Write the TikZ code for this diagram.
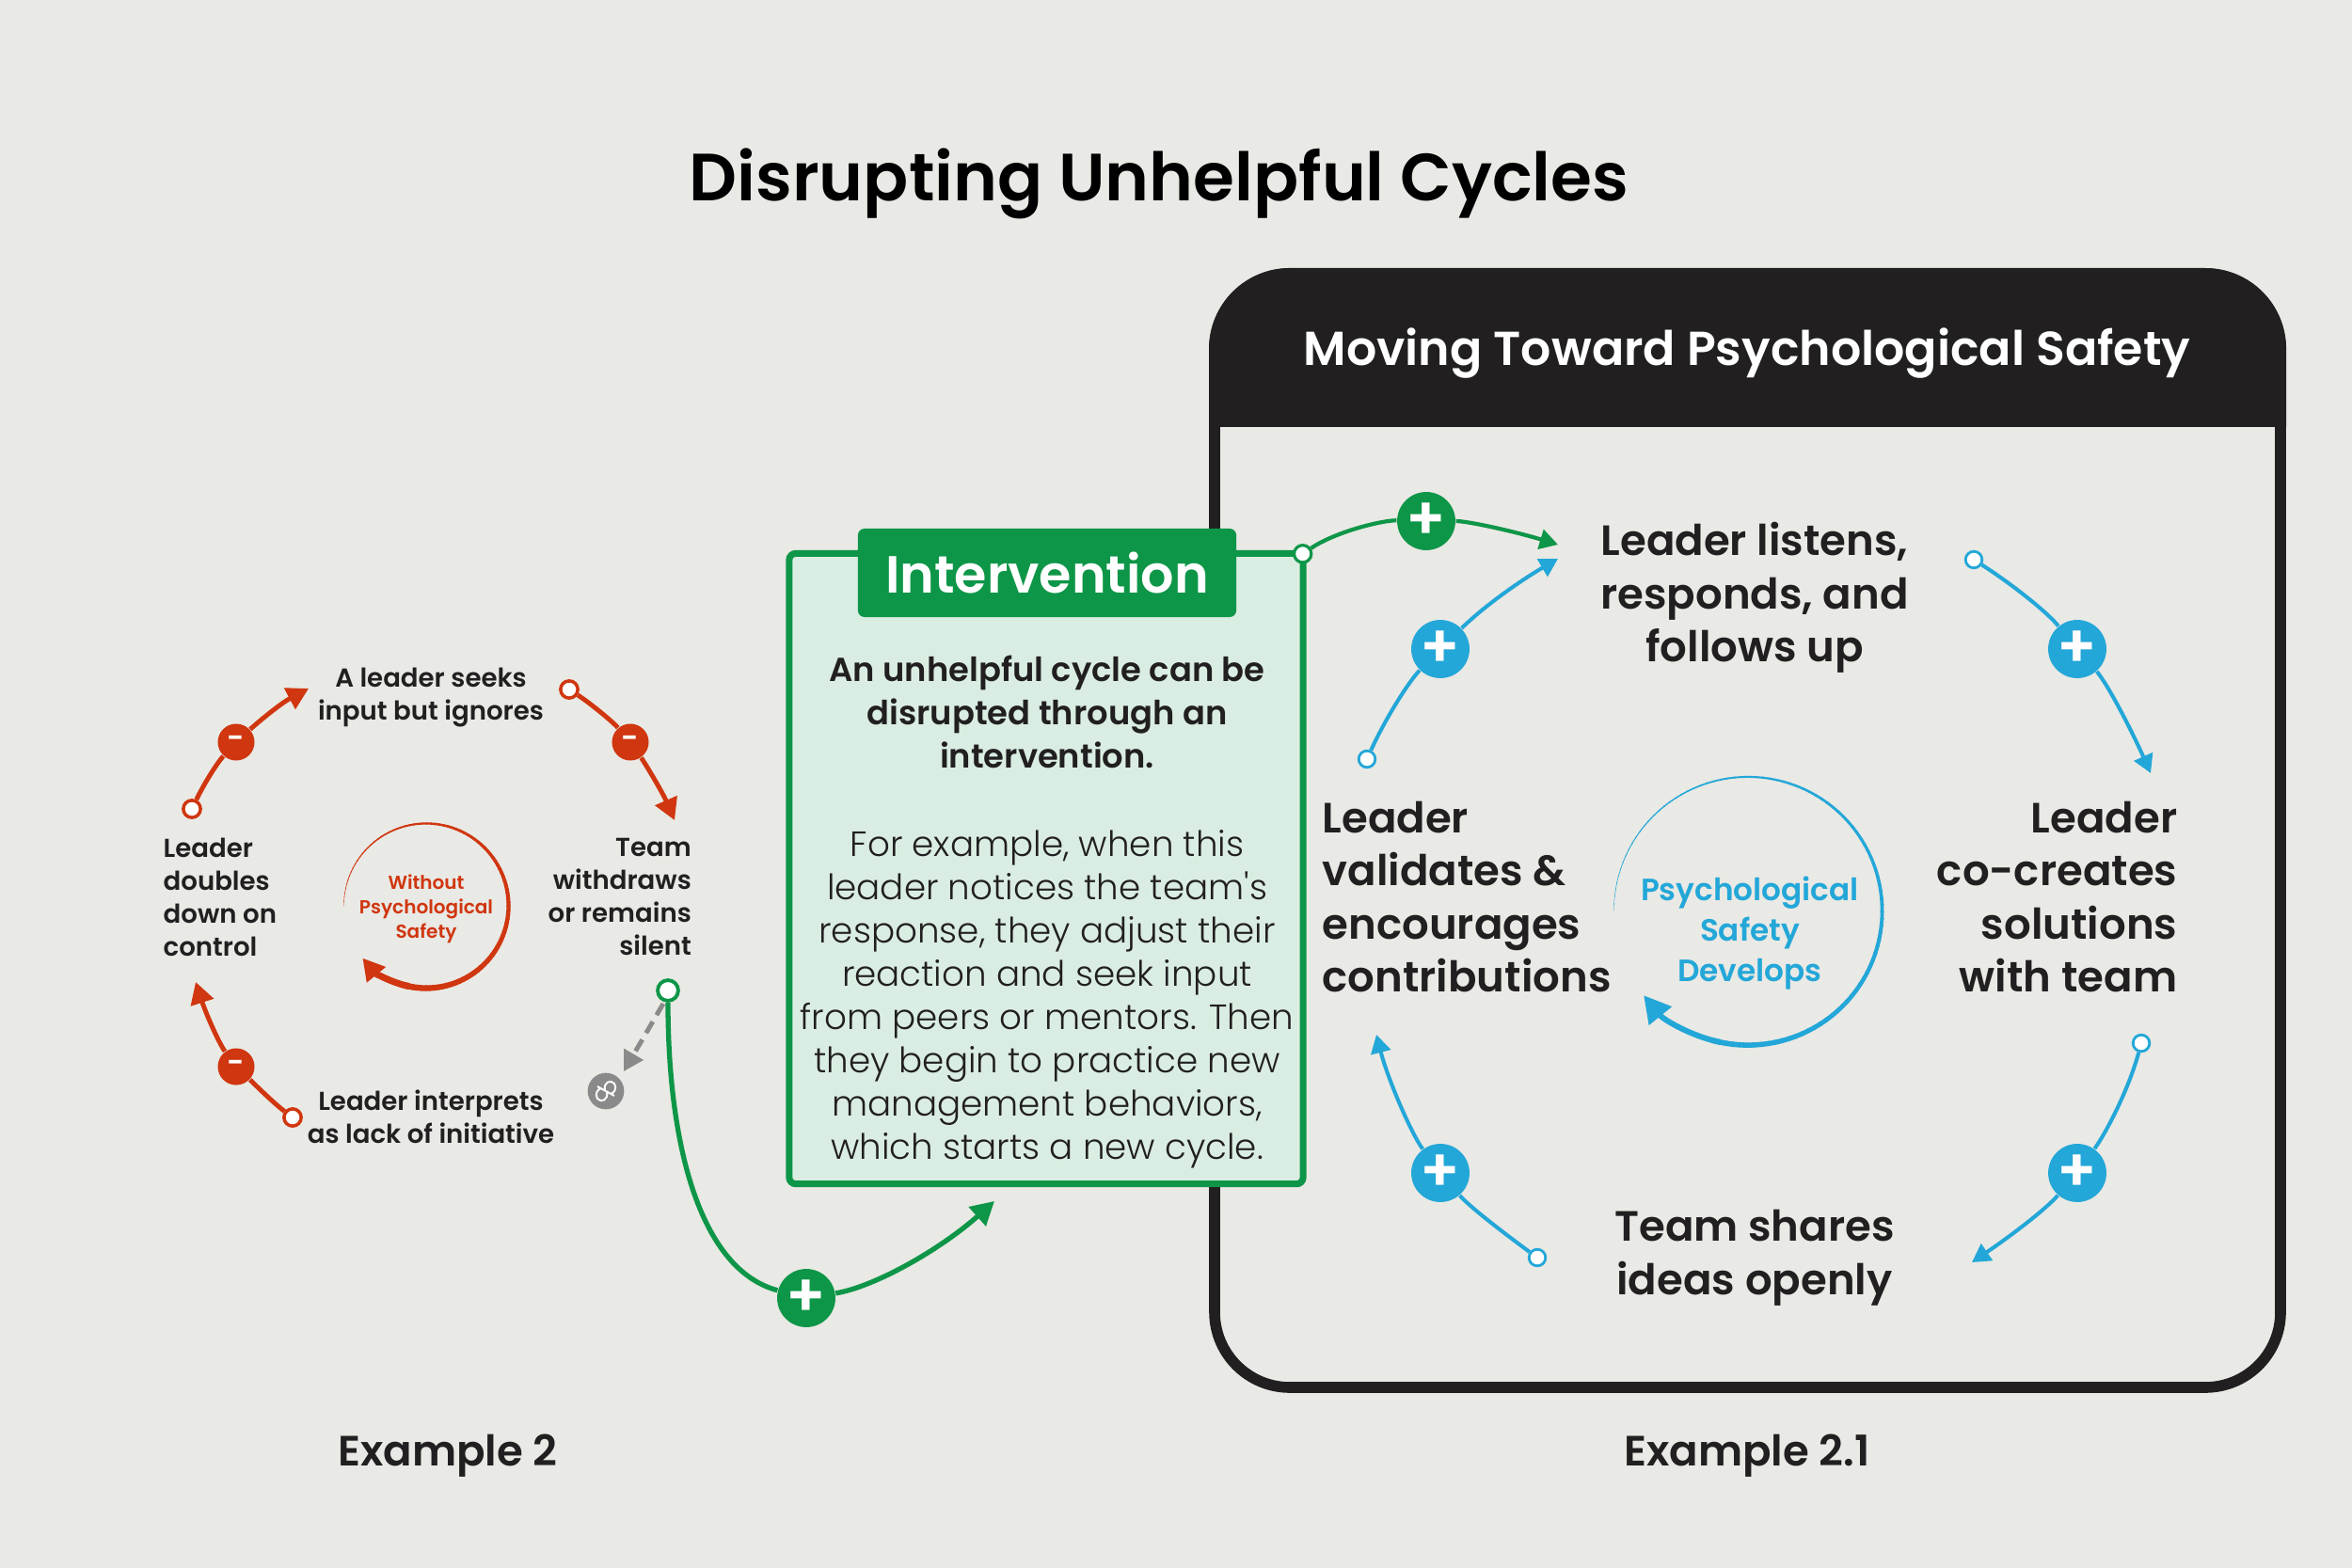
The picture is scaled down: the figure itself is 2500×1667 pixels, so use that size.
\documentclass[tikz,border=0pt]{standalone}
\usepackage{fontspec}
\setmainfont{Poppins}[BoldFont=Poppins SemiBold]
\newfontfamily\medfont{Poppins Medium}
\newfontfamily\lightfont{Poppins Light}
\usetikzlibrary{arrows.meta,calc}
\definecolor{paper}{HTML}{E9E9E5}
\definecolor{ink}{HTML}{211F20}
\definecolor{redc}{HTML}{D0360F}
\definecolor{bluec}{HTML}{23A7D8}
\definecolor{greenc}{HTML}{0E9648}
\definecolor{mint}{HTML}{DAEDE2}
\definecolor{greyc}{HTML}{8A8A8A}
\tikzset{
  smalltxt/.style={text=ink,inner sep=0pt,font=\bfseries\fontsize{7.85}{9.96}\selectfont},
  bigtxt/.style={text=ink,inner sep=0pt,font=\bfseries\fontsize{12.8}{16.1}\selectfont},
  reddot/.style={circle,draw=redc,fill=white,line width=1pt,minimum size=5.2pt,inner sep=0pt},
  bluedot/.style={circle,draw=bluec,fill=white,line width=.8pt,minimum size=5pt,inner sep=0pt},
  greendot/.style={circle,draw=greenc,fill=white,line width=1.1pt,minimum size=6.2pt,inner sep=0pt},
  redsign/.style={circle,fill=redc,text=white,minimum size=11.1pt,inner sep=0pt,font=\bfseries\fontsize{9}{9}\selectfont},
  bluesign/.style={circle,fill=bluec,text=white,minimum size=17.6pt,inner sep=0pt,font=\bfseries\fontsize{18}{18}\selectfont},
  greensign/.style={circle,fill=greenc,text=white,minimum size=17.6pt,inner sep=0pt,font=\bfseries\fontsize{18}{18}\selectfont},
  redline/.style={draw=redc,line width=1.4pt,-{Triangle[length=6.5pt,width=7pt]}},
  blueline/.style={draw=bluec,line width=1.15pt,-{Triangle[length=5.5pt,width=6pt]}},
  greenline/.style={draw=greenc,line width=1.5pt,-{Triangle[length=7pt,width=7.5pt]}},
}
\begin{document}
\begin{tikzpicture}[x=0.01cm,y=-0.01cm]
  \useasboundingbox[fill=paper] (0,0) rectangle (2500,1667);
  \node[text=black,font=\bfseries\fontsize{20.2}{24}\selectfont] (title) at (1232,195) {Disrupting Unhelpful Cycles};
  % box on the right
  \draw[ink,line width=3.3pt,rounded corners=.8cm] (1291,291) rectangle (2424,1475);
  \fill[ink] (1285,454) -- (1285,371) arc[start angle=180,end angle=90,radius=.86cm] -- (2344,285) arc[start angle=90,end angle=0,radius=.86cm] -- (2430,454) -- cycle;
  \node[text=white,font=\bfseries\fontsize{14.4}{18}\selectfont] (safehead) at (1857,376) {Moving Toward Psychological Safety};
  % intervention box
  \node[draw=greenc,fill=mint,line width=2pt,rounded corners=2pt,minimum width=5.46cm,minimum height=6.7cm,inner sep=0pt] (interv) at (1112,923.5) {};
  \node[fill=greenc,rounded corners=2pt,minimum width=4.02cm,minimum height=.94cm,inner sep=0pt,text=white,font=\bfseries\fontsize{15.8}{18}\selectfont] (intervhead) at (1113,609) {Intervention};
  \node[align=center,text=ink,font=\bfseries\fontsize{10.05}{13.1}\selectfont] (intervbold) at (1113,757) {An unhelpful cycle can be\\disrupted through an\\intervention.};
  \node[align=center,text=ink,font=\lightfont\fontsize{10.6}{13.1}\selectfont] (intervtext) at (1113,1062) {For example, when this\\leader notices the team's\\response, they adjust their\\reaction and seek input\\from peers or mentors. Then\\they begin to practice new\\management behaviors,\\which starts a new cycle.};
  % left cycle
  \node[smalltxt,align=center] (seeks) at (458,742) {A leader seeks\\input but ignores};
  \node[smalltxt,align=left,anchor=west] (doubles) at (173,953.5) {Leader\\doubles\\down on\\control};
  \node[smalltxt,align=right,anchor=east] (withdraws) at (735.5,953.5) {Team\\withdraws\\or remains\\silent};
  \node[smalltxt,align=center] (interprets) at (458,1187.5) {Leader interprets\\as lack of initiative};
  \node[align=center,text=redc,font=\bfseries\fontsize{5.7}{7.4}\selectfont] (without) at (453,966) {Without\\Psychological\\Safety};
  \coordinate (redmid) at (453,963);
  \node[reddot] (ra) at (204,860) {};
  \node[redsign] (rsa) at (251,789) {-};
  \coordinate (rta) at (328,732);
  \node[reddot] (rb) at (605,733) {};
  \node[redsign] (rsb) at (670,789) {-};
  \coordinate (rtb) at (717,872);
  \node[reddot] (rc) at (311,1188) {};
  \node[redsign] (rsc) at (251,1134) {-};
  \coordinate (rtc) at (208,1044);
  \draw[redline,-] (ra) .. controls (216,835) and (230,812) .. (rsa);
  \draw[redline] (rsa) .. controls (274,768) and (298,748) .. (rta);
  \draw[redline,-] (rb) .. controls (628,748) and (652,768) .. (rsb);
  \draw[redline] (rsb) .. controls (686,812) and (704,842) .. (rtb);
  \draw[redline,-] (rc) .. controls (290,1172) and (270,1152) .. (rsc);
  \draw[redline] (rsc) .. controls (232,1108) and (218,1075) .. (rtc);
  \foreach \a in {0,3,...,282} {
    \draw[redc,line width={0.1pt+\a*0.0062pt}] ([shift={(180-\a:.875cm)}]redmid) arc[start angle=180-\a,end angle=176.5-\a,radius=.875cm];
  }
  \draw[redline,line width=2pt] ([shift={(-102:.875cm)}]redmid) arc[start angle=-102,end angle=-140.5,radius=.875cm];
  % way out of the cycle
  \node[greendot] (leave) at (710,1053) {};
  \node[circle,fill=greyc,minimum size=11pt,inner sep=0pt] (broken) at (644,1160) {};
  \draw[greyc,line width=1.4pt,dash pattern=on 4pt off 2.3pt,-{Triangle[length=6pt,width=6.5pt]}] (705,1067) -- (663,1139);
  \begin{scope}[shift={(broken.center)},white,line width=.55pt]
    \draw (-9,-5) -- (9,5);
    \draw (-1,-1) .. controls (-3,-9) and (5,-13) .. (9,-8) .. controls (12,-3) and (9,2) .. (5,3);
    \draw (1,1) .. controls (3,9) and (-5,13) .. (-9,8) .. controls (-12,3) and (-9,-2) .. (-5,-3);
  \end{scope}
  \node[greensign] (gsa) at (857,1380) {+};
  \coordinate (gta) at (1057,1277);
  \draw[greenline,-] (leave) .. controls (710,1220) and (745,1350) .. (gsa);
  \draw[greenline] (gsa) .. controls (930,1368) and (1000,1328) .. (gta);
  \node[greendot,minimum size=5.2pt,line width=.9pt] (gdot) at ([shift={(-4,4)}]interv.north east) {};
  \node[greensign] (gsb) at (1516,554) {+};
  \coordinate (gtb) at (1656,579);
  \draw[greenline,-,line width=1.2pt] (gdot) .. controls (1420,565) and (1470,553) .. (gsb);
  \draw[greenline,line width=1.2pt,-{Triangle[length=5.5pt,width=6pt]}] (gsb) .. controls (1560,554) and (1610,565) .. (gtb);
  % right cycle
  \node[bigtxt,align=center] (listens) at (1865,635.5) {Leader listens,\\responds, and\\follows up};
  \node[bigtxt,align=left,anchor=west] (validates) at (1405,953.5) {Leader\\validates \&\\encourages\\contributions};
  \node[bigtxt,align=right,anchor=east] (cocreates) at (2315,953.5) {Leader\\co-creates\\solutions\\with team};
  \node[bigtxt,align=center] (shares) at (1865,1337) {Team shares\\ideas openly};
  \node[align=center,text=bluec,font=\bfseries\fontsize{9.3}{12.2}\selectfont] (develops) at (1860,992) {Psychological\\Safety\\Develops};
  \coordinate (bluemid) at (1858,968.5);
  \node[bluedot] (ba) at (1453,807) {};
  \node[bluesign] (bsa) at (1531,690) {+};
  \coordinate (bta) at (1656,594);
  \node[bluedot] (bb) at (2098,595) {};
  \node[bluesign] (bsb) at (2208,690) {+};
  \coordinate (btb) at (2286,822);
  \node[bluedot] (bc) at (2276,1109) {};
  \node[bluesign] (bsc) at (2208,1247) {+};
  \coordinate (btc) at (2096,1342);
  \node[bluedot] (bd) at (1634,1337) {};
  \node[bluesign] (bsd) at (1531,1247) {+};
  \coordinate (btd) at (1463,1100);
  \draw[blueline,-] (ba) .. controls (1472,765) and (1497,725) .. (bsa);
  \draw[blueline] (bsa) .. controls (1580,642) and (1620,615) .. (bta);
  \draw[blueline,-] (bb) .. controls (2140,622) and (2176,651) .. (bsb);
  \draw[blueline] (bsb) .. controls (2240,727) and (2265,775) .. (btb);
  \draw[blueline,-] (bc) .. controls (2262,1160) and (2238,1205) .. (bsc);
  \draw[blueline] (bsc) .. controls (2175,1285) and (2140,1312) .. (btc);
  \draw[blueline,-] (bd) .. controls (1600,1312) and (1562,1283) .. (bsd);
  \draw[blueline] (bsd) .. controls (1500,1205) and (1475,1147) .. (btd);
  \foreach \a in {0,3,...,282} {
    \draw[bluec,line width={0.1pt+\a*0.0055pt}] ([shift={(180-\a:1.425cm)}]bluemid) arc[start angle=180-\a,end angle=176.5-\a,radius=1.425cm];
  }
  \draw[bluec,line width=1.7pt,-{Triangle[length=8pt,width=8.5pt]}] ([shift={(-102:1.425cm)}]bluemid) arc[start angle=-102,end angle=-141,radius=1.425cm];
  % captions
  \node[text=ink,font=\bfseries\fontsize{12.8}{14}\selectfont] (exleft) at (476,1548) {Example 2};
  \node[text=ink,font=\bfseries\fontsize{12.8}{14}\selectfont] (exright) at (1857,1548) {Example 2.1};
\end{tikzpicture}
\end{document}
